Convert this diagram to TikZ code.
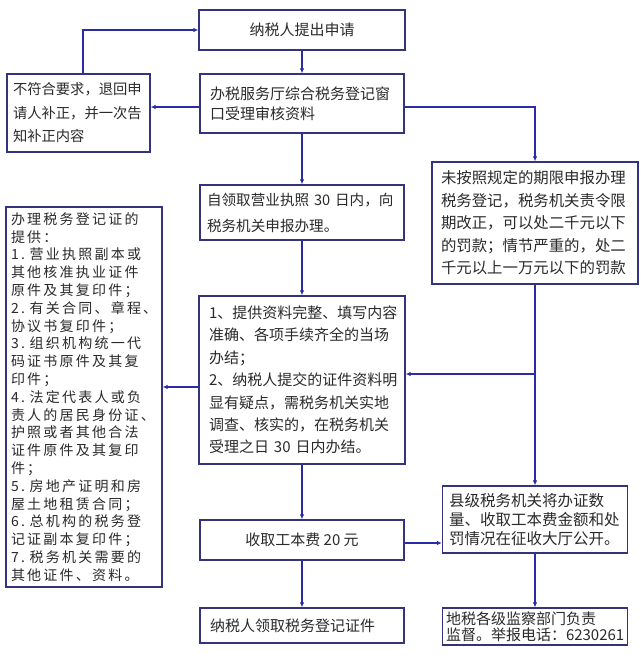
\documentclass[tikz,border=0pt]{standalone}
\usepackage{fontspec}
\setmainfont{Noto Sans CJK SC}
\newfontfamily\widecjk[LetterSpace=16]{Noto Sans CJK SC}
\usepackage{xcolor}
\usetikzlibrary{arrows.meta}
\definecolor{frame}{HTML}{34347E}
\definecolor{flow}{HTML}{2B2BA6}
\definecolor{ink}{HTML}{2A2A2A}
\tikzset{
  box/.style={draw=frame, line width=1.3pt, fill=white, text=ink, inner sep=0pt, align=left},
  link/.style={draw=flow, line width=1.4pt, -{Latex[length=5pt,width=4.5pt]}},
  txt/.style={font=\fontsize{15}{#1}\selectfont},
}

\begin{document}
\begin{tikzpicture}[x=1pt,y=-1pt]
  \useasboundingbox[fill=white] (0,0) rectangle (641,658);
  % main column
  \node[box, minimum width=206pt, minimum height=40pt, align=center, txt=18] (apply) at (302,30) {纳税人提出申请};
  \node[box, minimum width=204pt, minimum height=59pt, text width=184pt, txt=20] (review) at (302,103.5)
    {办税服务厅综合税务登记窗\\口受理审核资料};
  \node[box, minimum width=204pt, minimum height=55pt, text width=190pt, font=\fontsize{14.6}{26}\selectfont] (report) at (302,212.5)
    {自领取营业执照~30~日内，向\\税务机关申报办理。};
  \node[box, minimum width=206pt, minimum height=168pt, text width=186pt, txt=22.4] (check) at (302,380)
    {1、提供资料完整、填写内容\\准确、各项手续齐全的当场\\办结；\\2、纳税人提交的证件资料明\\显有疑点，需税务机关实地\\调查、核实的，在税务机关\\受理之日~30~日内办结。};
  \node[box, minimum width=204pt, minimum height=40pt, align=center, txt=18] (fee) at (302,540) {收取工本费~20~元};
  \node[box, minimum width=204pt, minimum height=35pt, text width=184pt, txt=18] (cert) at (302,625.5) {纳税人领取税务登记证件};
  % left side
  \node[box, minimum width=143pt, minimum height=78pt, text width=131pt, font=\fontsize{14.3}{23.5}\selectfont] (reject) at (78.5,113)
    {不符合要求，退回申\\请人补正，并一次告\\知补正内容};
  \node[box, minimum width=156pt, minimum height=380pt, text width=146pt, font=\widecjk\fontsize{14}{17.8}\selectfont] (docs) at (84,397)
    {办理税务登记证的\\提供：\\1.~营业执照副本或\\其他核准执业证件\\原件及其复印件；\\2.~有关合同、章程、\\协议书复印件；\\3.~组织机构统一代\\码证书原件及其复\\印件；\\4.~法定代表人或负\\责人的居民身份证、\\护照或者其他合法\\证件原件及其复印\\件；\\5.~房地产证明和房\\屋土地租赁合同；\\6.~总机构的税务登\\记证副本复印件；\\7.~税务机关需要的\\其他证件、资料。};
  % right side
  \node[box, minimum width=206pt, minimum height=122pt, text width=188pt, font=\fontsize{15.4}{22.5}\selectfont] (late) at (535,223)
    {未按照规定的期限申报办理\\税务登记，税务机关责令限\\期改正，可以处二千元以下\\的罚款；情节严重的，处二\\千元以上一万元以下的罚款};
  \node[box, minimum width=185pt, minimum height=67pt, text width=172pt, font=\fontsize{15.5}{19}\selectfont] (public) at (535,519.5)
    {县级税务机关将办证数\\量、收取工本费金额和处\\罚情况在征收大厅公开。};
  \node[box, minimum width=185pt, minimum height=37pt, text width=178pt, font=\fontsize{15}{16.5}\selectfont] (watch) at (535,626.5)
    {地税各级监察部门负责\\监督。举报电话：6230261};
  % levels of the side connectors
  \coordinate (bend) at (83,27);
  \coordinate (backY) at (0,107);
  \coordinate (docY) at (0,387);
  \coordinate (joinY) at (0,374);
  \coordinate (feeY) at (0,543);
  % connectors
  \draw[link] (apply) -- (review);
  \draw[link] (review) -- (report);
  \draw[link] (report) -- (check);
  \draw[link] (check) -- (fee);
  \draw[link] (fee) -- (cert);
  \draw[link] (review.west |- backY) -- (reject.east |- backY);
  \draw[link] (reject.north -| bend) |- (apply.west);
  \draw[link] (review.east |- backY) -| (late.north);
  \draw[link] (check.west |- docY) -- (docs.east |- docY);
  \draw[link] (late) -- (public);
  \draw[link] (late.south |- joinY) -- (check.east |- joinY);
  \draw[link] (fee.east |- feeY) -- (public.west |- feeY);
  \draw[link] (public) -- (watch);
\end{tikzpicture}
\end{document}
